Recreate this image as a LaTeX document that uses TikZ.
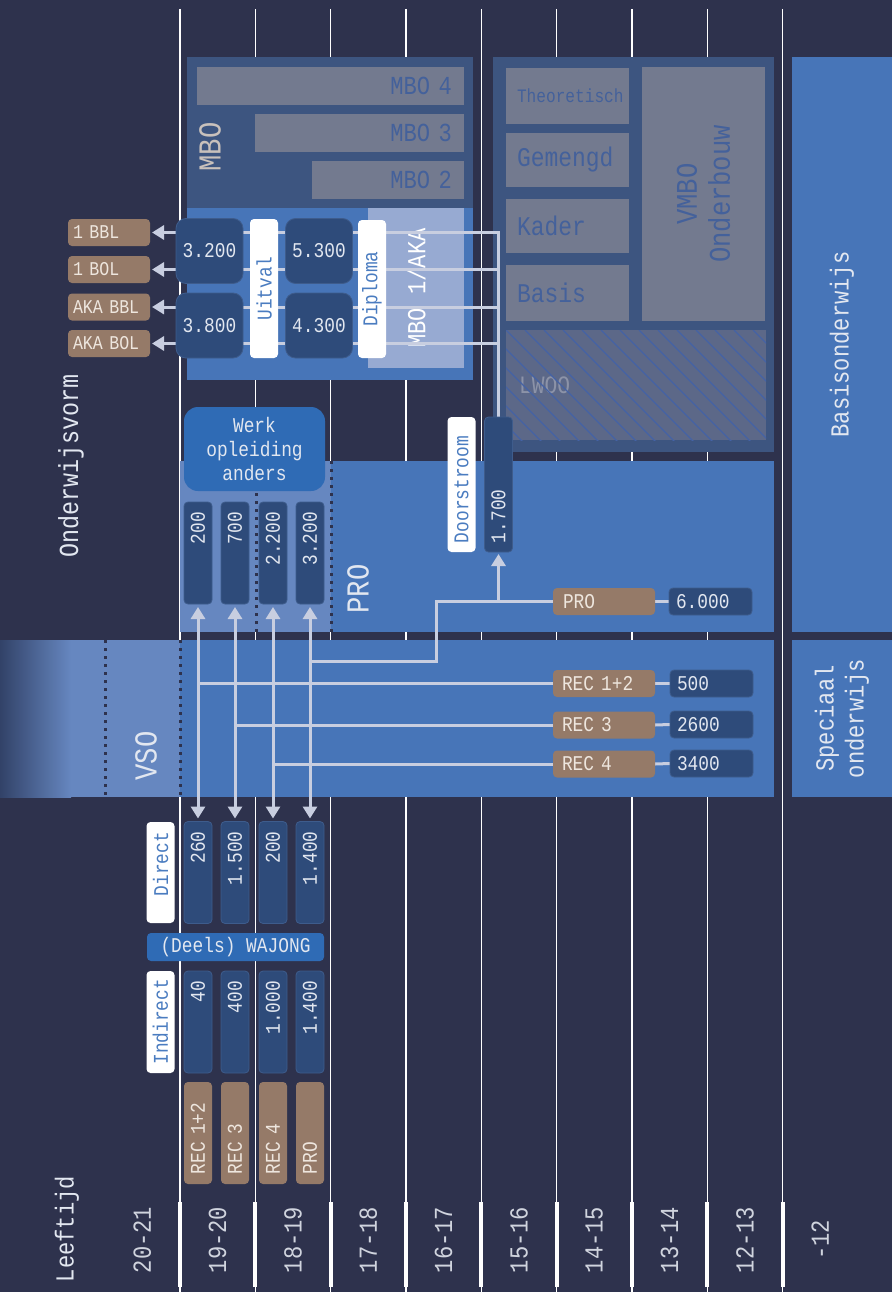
\documentclass[tikz,border=0pt]{standalone}
\usepackage{fontspec}
\usepackage{tikz}
\usetikzlibrary{arrows.meta,backgrounds}
\newfontfamily\monofont[FakeStretch=0.85]{Liberation Mono}
\definecolor{navy}{RGB}{46,50,77}
\definecolor{slate}{RGB}{61,85,128}
\definecolor{midblue}{RGB}{71,117,184}
\definecolor{lightblue}{RGB}{102,135,192}
\definecolor{paleblue}{RGB}{151,170,210}
\definecolor{vsodark}{RGB}{50,66,104}
\definecolor{graybar}{RGB}{115,122,143}
\definecolor{barblue}{RGB}{68,97,155}
\definecolor{numblue}{RGB}{46,75,122}
\definecolor{numedge}{RGB}{62,92,140}
\definecolor{tanfill}{RGB}{149,122,104}
\definecolor{tantext}{RGB}{238,230,222}
\definecolor{werkblue}{RGB}{47,107,181}
\definecolor{linkblue}{RGB}{74,124,192}
\definecolor{wirecol}{RGB}{200,206,224}
\definecolor{lwoofill}{RGB}{92,104,136}
\definecolor{hatchcol}{RGB}{68,98,165}
\definecolor{lwootext}{RGB}{140,147,168}
\definecolor{mbolabel}{RGB}{201,193,188}
\definecolor{lighttext}{RGB}{226,231,240}
\definecolor{agetext}{RGB}{208,212,222}
\pgfdeclarelayer{wires}
\pgfsetlayers{background,wires,main}

\begin{document}
\begin{tikzpicture}[
    x=1pt, y=-1pt,
    font=\monofont,
    every node/.style={inner sep=0pt, outer sep=0pt},
    txtS/.style={font=\monofont\fontsize{21}{24}\selectfont},
    txtM/.style={font=\monofont\fontsize{26}{30}\selectfont},
    txtBlk/.style={font=\monofont\fontsize{27}{30}\selectfont},
    txtBar/.style={font=\monofont\fontsize{26}{28}\selectfont},
    txtXL/.style={font=\monofont\fontsize{32}{36}\selectfont},
    bar/.style={fill=graybar, minimum height=38pt, inner xsep=12pt, align=right, text=barblue, txtBar},
    block/.style={fill=graybar, inner xsep=11pt, text width=101pt, align=left, text=barblue, txtBlk},
    bigcount/.style={fill=numblue, draw=numedge, line width=0.8pt, rounded corners=10pt, minimum width=67pt, minimum height=65pt, text=lighttext, txtS},
    numcol/.style={fill=numblue, draw=numedge, line width=0.8pt, rounded corners=4pt, rotate=90, minimum height=28pt, inner xsep=10pt, text width=82pt, align=right, text=lighttext, txtS},
    flagbox/.style={fill=white, rounded corners=4pt, rotate=90, minimum height=28pt, text=linkblue, txtS},
    tanbox/.style={fill=tanfill, rounded corners=4pt, minimum height=27pt, inner xsep=6pt, align=left, text=tantext, txtS},
    tancol/.style={fill=tanfill, rounded corners=4pt, rotate=90, minimum height=28pt, inner xsep=10pt, text width=82pt, align=left, text=tantext, txtS},
    numtag/.style={fill=numblue, draw=numedge, line width=0.8pt, rounded corners=4pt, minimum height=27pt, inner xsep=7pt, text width=69pt, align=left, text=lighttext, txtS},
    werkbox/.style={fill=werkblue, text=lighttext, txtS, align=center},
    bigtext/.style={rotate=90, text=lighttext, txtXL},
    agelabel/.style={rotate=90, text=agetext, txtM},
    wire/.style={draw=wirecol, line width=3pt},
    arr/.style={-{Triangle[length=12pt,width=14pt]}, shorten >=2pt},
    dots/.style={draw=navy, line width=3pt, dash pattern=on 3pt off 5pt},
    ageline/.style={draw=white, line width=1.3pt},
    agetick/.style={draw=white, line width=4pt},
    hatch/.style={draw=hatchcol, line width=1.1pt}
]
\useasboundingbox (0,0) rectangle (892,1292);

% ===================== BACKGROUND: AGE GRID AND PANELS =====================
\begin{pgfonlayer}{background}
\fill[navy] (0,0) rectangle (892,1292);
\foreach \i in {0,...,8} {
  \draw[ageline] (180+75.33*\i,9) -- (180+75.33*\i,1292);
  \draw[agetick] (180+75.33*\i,1202) -- (180+75.33*\i,1287);
}

% MBO
\node[fill=slate, minimum width=286pt, minimum height=151pt] (mbotop) at (330,132.5) {};
\node[fill=midblue, minimum width=286pt, minimum height=172pt] (mbolow) at (330,294) {};
\node[fill=paleblue, rotate=90, minimum width=160pt, minimum height=96pt, text=white, txtM] (mboaka) at (416,288) {MBO 1/AKA};
\node[bar, minimum width=267pt, text width=243pt] (mbo4) at (330.5,86) {MBO 4};
\node[bar, minimum width=209pt, text width=185pt] (mbo3) at (359.5,133) {MBO 3};
\node[bar, minimum width=152pt, text width=128pt] (mbo2) at (388,180) {MBO 2};

% VMBO
\node[fill=slate, minimum width=281pt, minimum height=395pt] (vmbo) at (633.5,254.5) {};
\node[block, minimum height=56pt, font=\monofont\fontsize{19}{22}\selectfont] (theor) at (567.5,96) {Theoretisch};
\node[block, minimum height=54pt] (gemengd) at (567.5,160) {Gemengd};
\node[block, minimum height=54pt] (kader) at (567.5,226) {Kader};
\node[block, minimum height=56pt] (basis) at (567.5,293) {Basis};
\node[fill=graybar, rotate=90, minimum width=254pt, minimum height=123pt, align=center, text=barblue, font=\monofont\fontsize{30}{33}\selectfont] (onderbouw) at (703.5,194) {VMBO\\Onderbouw};
\node[fill=lwoofill, minimum height=110pt, inner xsep=13pt, text width=234pt, align=left, text=lwootext, font=\monofont\fontsize{25}{28}\selectfont] (lwoo) at (636,385) {LWOO};
\begin{scope}
  \clip (lwoo.north west) rectangle (lwoo.south east);
  \foreach \hx in {0,...,20} \draw[hatch] (392+19*\hx,330) -- ++(115,115);
\end{scope}

% Basis / speciaal
\node[fill=midblue, rotate=90, minimum width=575pt, minimum height=100pt, text=lighttext, txtM] (basisond) at (842,344.5) {Basisonderwijs};
\node[fill=midblue, rotate=90, minimum width=157pt, minimum height=100pt, align=center, text=lighttext, txtM] (speciaal) at (842,718.5) {Speciaal\\onderwijs};

% PRO
\node[fill=midblue, minimum width=594pt, minimum height=171pt] (propanel) at (477,546.5) {};
\node[fill=lightblue, minimum width=151pt, minimum height=171pt] (prolight) at (255.5,546.5) {};
\draw[dots] (256,461) -- (256,632);
\draw[dots] (331,461) -- (331,632);

% VSO
\node[fill=midblue, minimum width=594pt, minimum height=157pt] (vsopanel) at (477,718.5) {};
\node[fill=lightblue, minimum width=110pt, minimum height=157pt] (vsolight) at (125,718.5) {};
\shade[left color=vsodark, right color=lightblue] (0,640) rectangle (71,797);
\draw[dots] (105,640) -- (105,797);
\draw[dots] (180,640) -- (180,797);
\end{pgfonlayer}

% ===================== LABELS =====================
\node[rotate=90, text=lighttext, font=\monofont\fontsize{27.5}{30}\selectfont] (vorm) at (71,466) {Onderwijsvorm};
\node[rotate=90, text=lighttext, txtM] (leeftijd) at (67,1229) {Leeftijd};
\foreach \lab [count=\k from 0] in {20-21,19-20,18-19,17-18,16-17,15-16,14-15,13-14,12-13,-12}
  \node[agelabel] (age\k) at (142.3+75.33*\k,1240) {\lab};
\node[rotate=90, text=mbolabel, txtXL] (mbolab) at (210,147) {MBO};
\node[bigtext] (prolab) at (358,589) {PRO};
\node[bigtext] (vsolab) at (146,756) {VSO};

% ===================== MBO 1 =====================
\node[bigcount] (m3200) at (209.5,251) {3.200};
\node[bigcount] (m3800) at (209.5,325.5) {3.800};
\node[bigcount] (m5300) at (319,251) {5.300};
\node[bigcount] (m4300) at (319,325.5) {4.300};
\node[flagbox, minimum width=139pt] (uitval) at (264,288.5) {Uitval};
\node[flagbox, minimum width=138pt] (diploma) at (372,289) {Diploma};

\node[tanbox, inner xsep=5pt, text width=72pt, font=\monofont\fontsize{19.5}{22}\selectfont] (bbl1) at (109,232.5) {1 BBL};
\node[tanbox, inner xsep=5pt, text width=72pt, font=\monofont\fontsize{19.5}{22}\selectfont] (bol1) at (109,269.5) {1 BOL};
\node[tanbox, inner xsep=5pt, text width=72pt, font=\monofont\fontsize{19.5}{22}\selectfont] (akabbl) at (109,307) {AKA BBL};
\node[tanbox, inner xsep=5pt, text width=72pt, font=\monofont\fontsize{19.5}{22}\selectfont] (akabol) at (109,343.5) {AKA BOL};

% ===================== PRO =====================
\node[werkbox, rounded corners=14pt, minimum width=141pt, minimum height=84pt] (werk) at (254.5,449) {Werk\\opleiding\\anders};
\node[numcol] (p200) at (198,553) {200};
\node[numcol] (p700) at (235,553) {700};
\node[numcol] (p2200) at (273,553) {2.200};
\node[numcol] (p3200) at (310,553) {3.200};

\node[flagbox, inner xsep=9pt, text width=117pt, align=left] (doorstroom) at (461.5,484.5) {Doorstroom};
\node[numcol, inner xsep=9pt, text width=117pt, align=left] (n1700) at (498.5,484.5) {1.700};

\node[tanbox, inner xsep=10pt, text width=82pt] (tpro) at (604,601.5) {PRO};
\node[numtag] (n6000) at (710.5,601.5) {6.000};

% ===================== VSO =====================
\node[tanbox, inner xsep=9pt, text width=84pt] (trec12) at (604,683.5) {REC 1+2};
\node[tanbox, inner xsep=9pt, text width=84pt] (trec3) at (604,725) {REC 3};
\node[tanbox, inner xsep=9pt, text width=84pt] (trec4) at (604,764) {REC 4};
\node[numtag] (n500) at (711.5,683.5) {500};
\node[numtag] (n2600) at (711.5,724.5) {2600};
\node[numtag] (n3400) at (711.5,763.5) {3400};

% ===================== WAJONG =====================
\node[flagbox, minimum width=101pt, inner xsep=10pt, text width=81pt, align=right] (direct) at (160.5,872.5) {Direct};
\node[numcol] (d260) at (198,872.5) {260};
\node[numcol] (d1500) at (235,872.5) {1.500};
\node[numcol] (d200) at (273,872.5) {200};
\node[numcol] (d1400) at (310,872.5) {1.400};
\node[werkbox, rounded corners=4pt, minimum width=177pt, minimum height=28pt] (wajong) at (235.5,947) {(Deels) WAJONG};
\node[flagbox, minimum width=102pt, inner xsep=8pt, text width=86pt, align=right] (indirect) at (160.5,1022) {Indirect};
\node[numcol] (i40) at (198,1022) {40};
\node[numcol] (i400) at (235,1022) {400};
\node[numcol] (i1000) at (273,1022) {1.000};
\node[numcol] (i1400) at (310,1022) {1.400};
\node[tancol] (b12) at (198,1133) {REC 1+2};
\node[tancol] (b3) at (235,1133) {REC 3};
\node[tancol] (b4) at (273,1133) {REC 4};
\node[tancol] (bpro) at (310,1133) {PRO};

% ===================== CONNECTORS =====================
\coordinate (jpro) at (310,661);
\coordinate (kpro) at (436,601.5);
\begin{pgfonlayer}{wires}
\foreach \t in {bbl1,bol1,akabbl,akabol}
  \draw[wire, arr] (n1700.east) |- (\t.east);
\foreach \a/\b in {p200/d260,p700/d1500,p2200/d200,p3200/d1400}
  \draw[wire, {Triangle[length=12pt,width=14pt]}-{Triangle[length=12pt,width=14pt]}, shorten <=3pt, shorten >=3pt] (\a.west) -- (\b.east);
\draw[wire] (jpro) -| (kpro) -- (tpro.west);
\draw[wire, arr] (n1700.west |- tpro.west) -- (n1700.west);
\draw[wire] (tpro.east) -- (n6000.west);
\draw[wire] (p200.west |- trec12.west) -- (trec12.west);
\draw[wire] (p700.west |- trec3.west) -- (trec3.west);
\draw[wire] (p2200.west |- trec4.west) -- (trec4.west);
\draw[wire] (trec12.east) -- (n500.west);
\draw[wire] (trec3.east) -- (n2600.west);
\draw[wire] (trec4.east) -- (n3400.west);
\end{pgfonlayer}

\end{tikzpicture}
\end{document}
